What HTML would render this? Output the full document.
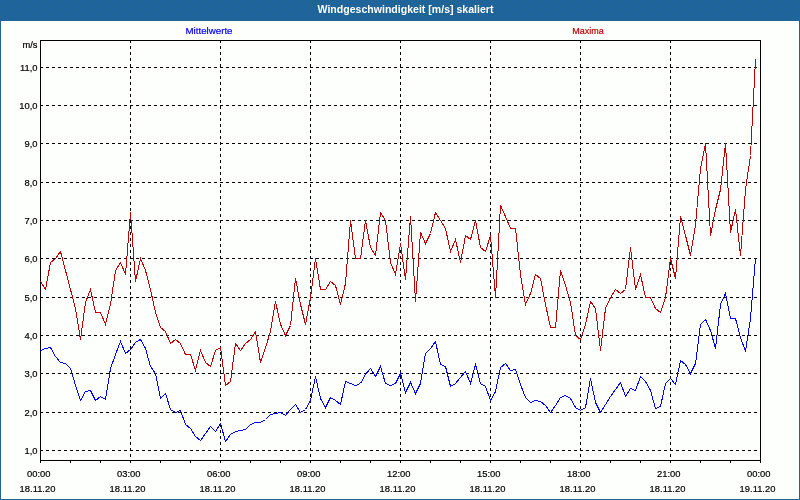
<!DOCTYPE html>
<html><head><meta charset="utf-8"><title>Windgeschwindigkeit</title>
<style>
html,body{margin:0;padding:0;background:#fdfffd;overflow:hidden}
svg{display:block}
text{font-family:"Liberation Sans",sans-serif;font-size:9.4px;fill:#000;stroke:#000;stroke-width:.2px}
.t{font-size:11px;font-weight:bold;fill:#fff;stroke:none}
.g{stroke:#000;stroke-width:1;stroke-dasharray:3 3;fill:none}
.k{stroke:#000;stroke-width:1;fill:none}
</style></head><body>
<svg width="800" height="500" viewBox="0 0 800 500">
<defs><pattern id="dz" width="8" height="4" patternUnits="userSpaceOnUse"><rect x="1" y="0" width="1" height="1" fill="#2365b2"/><rect x="5" y="1" width="1" height="1" fill="#2365b2"/><rect x="3" y="2" width="1" height="1" fill="#2365b2"/><rect x="7" y="3" width="1" height="1" fill="#2365b2"/></pattern></defs>
<rect x="0" y="0" width="800" height="500" fill="#1e6496"/>
<rect x="0" y="0" width="800" height="21" fill="url(#dz)"/>
<rect x="1" y="21" width="798" height="478" fill="#fdfffd"/>
<text class="t" x="405.5" y="12.5" text-anchor="middle" textLength="176" lengthAdjust="spacingAndGlyphs">Windgeschwindigkeit [m/s] skaliert</text>
<text x="209" y="33.5" text-anchor="middle" textLength="47" lengthAdjust="spacingAndGlyphs" style="fill:#0000ff;stroke:#0000ff">Mittelwerte</text>
<text x="588" y="33.5" text-anchor="middle" textLength="31.5" lengthAdjust="spacingAndGlyphs" style="fill:#be0000;stroke:#be0000">Maxima</text>
<g shape-rendering="crispEdges">
<line class="g" x1="40" y1="450.5" x2="760" y2="450.5"/>
<line class="g" x1="40" y1="412.5" x2="760" y2="412.5"/>
<line class="g" x1="40" y1="373.5" x2="760" y2="373.5"/>
<line class="g" x1="40" y1="335.5" x2="760" y2="335.5"/>
<line class="g" x1="40" y1="297.5" x2="760" y2="297.5"/>
<line class="g" x1="40" y1="258.5" x2="760" y2="258.5"/>
<line class="g" x1="40" y1="220.5" x2="760" y2="220.5"/>
<line class="g" x1="40" y1="182.5" x2="760" y2="182.5"/>
<line class="g" x1="40" y1="143.5" x2="760" y2="143.5"/>
<line class="g" x1="40" y1="105.5" x2="760" y2="105.5"/>
<line class="g" x1="40" y1="67.5" x2="760" y2="67.5"/>
<line class="g" x1="130.5" y1="40" x2="130.5" y2="460"/>
<line class="g" x1="220.5" y1="40" x2="220.5" y2="460"/>
<line class="g" x1="310.5" y1="40" x2="310.5" y2="460"/>
<line class="g" x1="400.5" y1="40" x2="400.5" y2="460"/>
<line class="g" x1="490.5" y1="40" x2="490.5" y2="460"/>
<line class="g" x1="580.5" y1="40" x2="580.5" y2="460"/>
<line class="g" x1="670.5" y1="40" x2="670.5" y2="460"/>
<rect class="k" x="40.5" y="40.5" width="720" height="420"/>
<line class="k" x1="40.5" y1="460" x2="40.5" y2="463"/>
<line class="k" x1="70.5" y1="460" x2="70.5" y2="463"/>
<line class="k" x1="100.5" y1="460" x2="100.5" y2="463"/>
<line class="k" x1="130.5" y1="460" x2="130.5" y2="463"/>
<line class="k" x1="160.5" y1="460" x2="160.5" y2="463"/>
<line class="k" x1="190.5" y1="460" x2="190.5" y2="463"/>
<line class="k" x1="220.5" y1="460" x2="220.5" y2="463"/>
<line class="k" x1="250.5" y1="460" x2="250.5" y2="463"/>
<line class="k" x1="280.5" y1="460" x2="280.5" y2="463"/>
<line class="k" x1="310.5" y1="460" x2="310.5" y2="463"/>
<line class="k" x1="340.5" y1="460" x2="340.5" y2="463"/>
<line class="k" x1="370.5" y1="460" x2="370.5" y2="463"/>
<line class="k" x1="400.5" y1="460" x2="400.5" y2="463"/>
<line class="k" x1="430.5" y1="460" x2="430.5" y2="463"/>
<line class="k" x1="460.5" y1="460" x2="460.5" y2="463"/>
<line class="k" x1="490.5" y1="460" x2="490.5" y2="463"/>
<line class="k" x1="520.5" y1="460" x2="520.5" y2="463"/>
<line class="k" x1="550.5" y1="460" x2="550.5" y2="463"/>
<line class="k" x1="580.5" y1="460" x2="580.5" y2="463"/>
<line class="k" x1="610.5" y1="460" x2="610.5" y2="463"/>
<line class="k" x1="640.5" y1="460" x2="640.5" y2="463"/>
<line class="k" x1="670.5" y1="460" x2="670.5" y2="463"/>
<line class="k" x1="700.5" y1="460" x2="700.5" y2="463"/>
<line class="k" x1="730.5" y1="460" x2="730.5" y2="463"/>
<line class="k" x1="760.5" y1="460" x2="760.5" y2="463"/>
<polyline points="40.5,281.5 45.5,289.5 50.5,262.5 55.5,258.5 60.5,251.5 65.5,270.5 70.5,289.5 75.5,308.5 80.5,339.5 85.5,302.5 90.5,289.5 95.5,312.5 100.5,312.5 105.5,324.5 110.5,304.5 115.5,270.5 120.5,262.5 125.5,274.5 130.5,212.5 135.5,281.5 140.5,258.5 145.5,270.5 150.5,289.5 155.5,312.5 160.5,327.5 165.5,331.5 170.5,343.5 175.5,339.5 180.5,343.5 185.5,354.5 190.5,354.5 195.5,370.5 200.5,350.5 205.5,362.5 210.5,366.5 215.5,350.5 220.5,347.5 225.5,385.5 230.5,381.5 235.5,343.5 240.5,350.5 245.5,343.5 250.5,339.5 255.5,331.5 260.5,362.5 265.5,347.5 270.5,331.5 275.5,301.5 280.5,324.5 285.5,335.5 290.5,325.5 295.5,278.5 300.5,304.5 305.5,324.5 310.5,297.5 315.5,258.5 320.5,289.5 325.5,289.5 330.5,281.5 335.5,285.5 340.5,304.5 345.5,283.5 350.5,220.5 355.5,258.5 360.5,258.5 365.5,220.5 370.5,247.5 375.5,255.5 380.5,212.5 385.5,220.5 390.5,262.5 395.5,274.5 400.5,243.5 405.5,279.5 410.5,216.5 415.5,301.5 420.5,232.5 425.5,243.5 430.5,233.5 435.5,212.5 440.5,220.5 445.5,228.5 450.5,251.5 455.5,239.5 460.5,262.5 465.5,235.5 470.5,239.5 475.5,220.5 480.5,247.5 485.5,251.5 490.5,235.5 495.5,297.5 500.5,205.5 505.5,216.5 510.5,228.5 515.5,228.5 520.5,274.5 525.5,304.5 530.5,293.5 535.5,274.5 540.5,278.5 545.5,304.5 550.5,327.5 555.5,327.5 560.5,270.5 565.5,285.5 570.5,302.5 575.5,335.5 580.5,339.5 585.5,324.5 590.5,301.5 595.5,308.5 600.5,350.5 605.5,308.5 610.5,297.5 615.5,289.5 620.5,293.5 625.5,289.5 630.5,247.5 635.5,289.5 640.5,274.5 645.5,297.5 650.5,297.5 655.5,308.5 660.5,312.5 665.5,297.5 670.5,258.5 675.5,278.5 680.5,216.5 685.5,235.5 690.5,255.5 695.5,224.5 700.5,168.5 705.5,143.5 710.5,235.5 715.5,209.5 720.5,189.5 725.5,143.5 730.5,232.5 735.5,209.5 740.5,255.5 745.5,189.5 750.5,155.5 755.5,59.5" fill="none" stroke="#be0000" stroke-width="1"/>
<polyline points="40.5,350.5 45.5,348.5 50.5,347.5 55.5,356.5 60.5,362.5 65.5,363.5 70.5,368.5 75.5,385.5 80.5,400.5 85.5,391.5 90.5,390.5 95.5,400.5 100.5,396.5 105.5,399.5 110.5,368.5 115.5,354.5 120.5,341.5 125.5,353.5 130.5,349.5 135.5,342.5 140.5,339.5 145.5,348.5 150.5,366.5 155.5,373.5 160.5,398.5 165.5,393.5 170.5,409.5 175.5,412.5 180.5,410.5 185.5,424.5 190.5,428.5 195.5,436.5 200.5,440.5 205.5,433.5 210.5,426.5 215.5,431.5 220.5,423.5 225.5,441.5 230.5,434.5 235.5,431.5 240.5,430.5 245.5,429.5 250.5,424.5 255.5,422.5 260.5,422.5 265.5,419.5 270.5,414.5 275.5,413.5 280.5,412.5 285.5,415.5 290.5,409.5 295.5,404.5 300.5,412.5 305.5,409.5 310.5,400.5 315.5,376.5 320.5,398.5 325.5,407.5 330.5,397.5 335.5,400.5 340.5,404.5 345.5,381.5 350.5,383.5 355.5,385.5 360.5,383.5 365.5,374.5 370.5,368.5 375.5,376.5 380.5,366.5 385.5,383.5 390.5,385.5 395.5,383.5 400.5,373.5 405.5,392.5 410.5,382.5 415.5,393.5 420.5,383.5 425.5,353.5 430.5,348.5 435.5,341.5 440.5,364.5 445.5,366.5 450.5,386.5 455.5,383.5 460.5,377.5 465.5,371.5 470.5,383.5 475.5,364.5 480.5,383.5 485.5,386.5 490.5,400.5 495.5,391.5 500.5,367.5 505.5,363.5 510.5,370.5 515.5,369.5 520.5,384.5 525.5,397.5 530.5,402.5 535.5,400.5 540.5,401.5 545.5,405.5 550.5,412.5 555.5,405.5 560.5,397.5 565.5,395.5 570.5,398.5 575.5,407.5 580.5,410.5 585.5,407.5 590.5,378.5 595.5,402.5 600.5,412.5 605.5,404.5 610.5,396.5 615.5,389.5 620.5,382.5 625.5,396.5 630.5,388.5 635.5,390.5 640.5,376.5 645.5,381.5 650.5,390.5 655.5,408.5 660.5,406.5 665.5,383.5 670.5,378.5 675.5,384.5 680.5,360.5 685.5,364.5 690.5,373.5 695.5,363.5 700.5,324.5 705.5,319.5 710.5,330.5 715.5,348.5 720.5,304.5 725.5,293.5 730.5,318.5 735.5,318.5 740.5,337.5 745.5,351.5 750.5,318.5 755.5,258.5" fill="none" stroke="#0000ff" stroke-width="1"/>
</g>
<text x="37.5" y="48" text-anchor="end">m/s</text>
<text x="37.5" y="453.6" text-anchor="end">1,0</text>
<text x="37.5" y="415.6" text-anchor="end">2,0</text>
<text x="37.5" y="376.6" text-anchor="end">3,0</text>
<text x="37.5" y="338.6" text-anchor="end">4,0</text>
<text x="37.5" y="300.6" text-anchor="end">5,0</text>
<text x="37.5" y="261.6" text-anchor="end">6,0</text>
<text x="37.5" y="223.6" text-anchor="end">7,0</text>
<text x="37.5" y="185.6" text-anchor="end">8,0</text>
<text x="37.5" y="146.6" text-anchor="end">9,0</text>
<text x="37.5" y="108.6" text-anchor="end">10,0</text>
<text x="37.5" y="70.6" text-anchor="end">11,0</text>
<text x="38.8" y="477" text-anchor="middle">00:00</text>
<text x="37.5" y="492" text-anchor="middle">18.11.20</text>
<text x="128.8" y="477" text-anchor="middle">03:00</text>
<text x="127.5" y="492" text-anchor="middle">18.11.20</text>
<text x="218.8" y="477" text-anchor="middle">06:00</text>
<text x="217.5" y="492" text-anchor="middle">18.11.20</text>
<text x="308.8" y="477" text-anchor="middle">09:00</text>
<text x="307.5" y="492" text-anchor="middle">18.11.20</text>
<text x="398.8" y="477" text-anchor="middle">12:00</text>
<text x="397.5" y="492" text-anchor="middle">18.11.20</text>
<text x="488.8" y="477" text-anchor="middle">15:00</text>
<text x="487.5" y="492" text-anchor="middle">18.11.20</text>
<text x="578.8" y="477" text-anchor="middle">18:00</text>
<text x="577.5" y="492" text-anchor="middle">18.11.20</text>
<text x="668.8" y="477" text-anchor="middle">21:00</text>
<text x="667.5" y="492" text-anchor="middle">18.11.20</text>
<text x="758.8" y="477" text-anchor="middle">00:00</text>
<text x="757.5" y="492" text-anchor="middle">19.11.20</text>
</svg></body></html>
